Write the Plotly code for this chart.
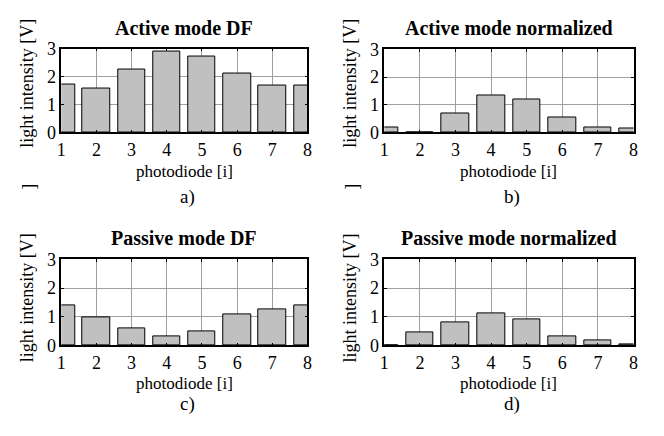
import plotly.graph_objects as go

photodiodes = [1, 2, 3, 4, 5, 6, 7, 8]
active_df = [1.73, 1.56, 2.24, 2.88, 2.73, 2.09, 1.68, 1.68]
active_norm = [0.17, 0.01, 0.68, 1.33, 1.19, 0.55, 0.17, 0.13]
passive_df = [1.40, 0.99, 0.58, 0.31, 0.49, 1.09, 1.25, 1.40]
passive_norm = [0.01, 0.45, 0.81, 1.11, 0.89, 0.31, 0.18, 0.03]
titles = ["Active mode DF", "Active mode normalized", "Passive mode DF", "Passive mode normalized"]
captions = ["a)", "b)", "c)", "d)"]
y_ticks = [0, 1, 2, 3]

W, H = 664, 436
FONT = "Liberation Serif"

# panel boxes in figure pixels: (x0, x1, y_top, y_bottom)
boxes = [(49, 299, 32, 120), (377, 630, 33, 120), (49, 299, 253, 343), (377, 630, 253, 343)]
title_y = [11, 11, 231, 231]
xlabel_y = [161, 161, 383, 383]
ylabel_y = [68, 68, 293, 293]
caption_y = [188, 188, 405, 405]
series = [active_df, active_norm, passive_df, passive_norm]


def px(x):
    return x / W


def py(y):
    return 1 - y / H


fig = go.Figure()
annotations = []
for i, (box, vals) in enumerate(zip(boxes, series)):
    x0, x1, yt, yb = box
    n = "" if i == 0 else str(i + 1)
    xa, ya = "x" + n, "y" + n
    fig.add_trace(go.Bar(x=photodiodes, y=vals, width=0.78, xaxis=xa, yaxis=ya,
                         marker=dict(color="#c0c0c0", line=dict(color="black", width=1)),
                         showlegend=False, hoverinfo="skip"))
    common = dict(showline=True, linecolor="black", linewidth=1.5, mirror="allticks",
                  ticks="inside", ticklen=3, tickcolor="black", showgrid=True,
                  gridcolor="#a0a0a0", gridwidth=1, zeroline=False,
                  tickfont=dict(family=FONT, size=18, color="black"))
    fig.layout["xaxis" + n] = dict(domain=[px(x0), px(x1)], anchor=ya, range=[1, 8],
                                   tickvals=photodiodes, **common)
    fig.layout["yaxis" + n] = dict(domain=[py(yb), py(yt)], anchor=xa, range=[0, 3],
                                   tickvals=y_ticks, **common)
    cx = (x0 + x1) / 2
    annotations.append(dict(text="<b>" + titles[i] + "</b>", x=px(cx), y=py(title_y[i]),
                            xref="paper", yref="paper", showarrow=False, xanchor="center", yanchor="middle",
                            font=dict(family=FONT, size=20, color="black")))
    annotations.append(dict(text="photodiode [i]", x=px(cx), y=py(xlabel_y[i]),
                            xref="paper", yref="paper", showarrow=False, xanchor="center", yanchor="middle",
                            font=dict(family=FONT, size=17, color="black")))
    annotations.append(dict(text="light intensity [V]", x=px(x0 - 35), y=py(ylabel_y[i]),
                            xref="paper", yref="paper", showarrow=False, xanchor="center", yanchor="middle",
                            textangle=-90, font=dict(family=FONT, size=18, color="black")))
    annotations.append(dict(text=captions[i], x=px(cx + 3), y=py(caption_y[i]),
                            xref="paper", yref="paper", showarrow=False, xanchor="center", yanchor="middle",
                            font=dict(family=FONT, size=19, color="black")))
    if i < 2:
        annotations.append(dict(text="]", x=px(x0 - 33), y=py(177),
                                xref="paper", yref="paper", showarrow=False, xanchor="center", yanchor="middle",
                                textangle=-90, font=dict(family=FONT, size=18, color="black")))

fig.update_layout(width=W, height=H, margin=dict(l=0, r=0, t=0, b=0),
                  paper_bgcolor="white", plot_bgcolor="white", annotations=annotations,
                  bargap=0)
fig.write_html("out.html")
